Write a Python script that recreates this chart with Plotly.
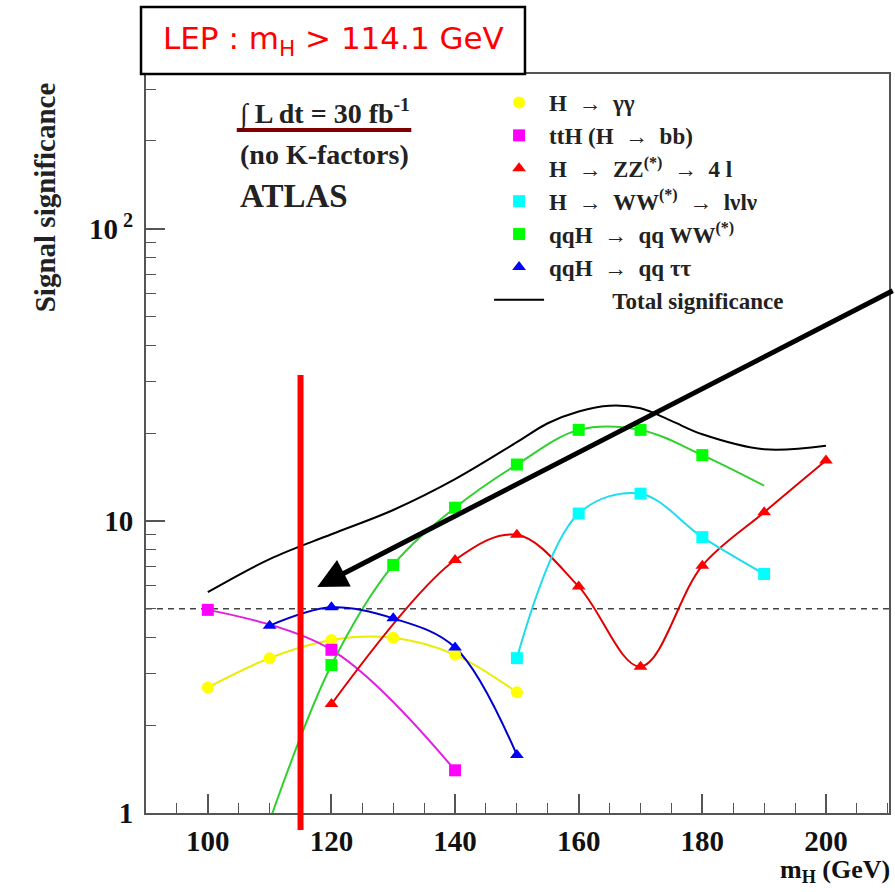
import math
import plotly.graph_objects as go

# ---------------- data ----------------
yy_mass = [100, 110, 120, 130, 140, 150]
yy_sig = [2.69, 3.39, 3.91, 3.98, 3.48, 2.59]

tth_mass = [100, 120, 140]
tth_sig = [4.96, 3.62, 1.40]

zz_mass = [120, 140, 150, 160, 170, 180, 190, 200]
zz_sig = [2.36, 7.35, 8.96, 5.96, 3.17, 7.03, 10.7, 16.1]

ww_mass = [150, 160, 170, 180, 190]
ww_sig = [3.39, 10.6, 12.4, 8.80, 6.58]

qqww_mass = [110, 120, 130, 140, 150, 160, 170, 180, 190]
qqww_sig = [0.94, 3.21, 7.07, 11.1, 15.6, 20.5, 20.5, 16.8, 13.2]
qqww_marked = [False, True, True, True, True, True, True, True, False]

qqtt_mass = [110, 120, 130, 140, 150]
qqtt_sig = [4.38, 5.06, 4.64, 3.69, 1.58]

total_mass = [100, 110, 120, 130, 140, 150, 155, 160, 165, 170, 175, 180, 190, 200]
total_sig = [5.7, 7.4, 9.0, 10.9, 13.9, 18.6, 21.6, 23.7, 24.8, 24.3, 22.0, 19.8, 17.6, 18.1]

discovery_level = 5.0
lep_line_mass = 115.0
lep_line_top = 31.6
arrow_tip_mass = 117.7
arrow_tip_sig = 5.94

x_range = [90, 210.2]
y_range = [1, 339]
x_tickvals = [100, 120, 140, 160, 180, 200]
y_tickvals = [1, 10, 100]
y_ticktext = ["1", "10", "10<sup> 2</sup>"]
y_minor = [2, 3, 4, 5, 6, 7, 8, 9, 20, 30, 40, 50, 60, 70, 80, 90, 200, 300]

series = [
    dict(name="H \u00a0\u2192 \u00a0γγ", x=yy_mass, y=yy_sig, line="#ecec00", fill="#ffff00", symbol="circle"),
    dict(name="ttH (H \u00a0\u2192 \u00a0bb)", x=tth_mass, y=tth_sig, line="#e020e0", fill="#ff00ff", symbol="square"),
    dict(name="H \u00a0\u2192 \u00a0ZZ<sup>(*)</sup> \u00a0\u2192 \u00a04 l", x=zz_mass, y=zz_sig, line="#e00000", fill="#ff0000", symbol="triangle-up"),
    dict(name="H \u00a0\u2192 \u00a0WW<sup>(*)</sup> \u00a0\u2192 \u00a0lνlν", x=ww_mass, y=ww_sig, line="#20dcec", fill="#00ffff", symbol="square"),
    dict(name="qqH \u00a0\u2192 \u00a0qq WW<sup>(*)</sup>", x=qqww_mass, y=qqww_sig, line="#30d030", fill="#00ff00", symbol="square", marked=qqww_marked),
    dict(name="qqH \u00a0\u2192 \u00a0qq ττ", x=qqtt_mass, y=qqtt_sig, line="#0000cc", fill="#0000ff", symbol="triangle-up"),
]

SERIF = "Liberation Serif"
fig = go.Figure()

# discovery threshold dashed line
fig.add_trace(go.Scatter(x=x_range, y=[discovery_level, discovery_level], mode="lines",
                         line=dict(color="#444444", width=1.5, dash="6px,5px"),
                         showlegend=False, hoverinfo="skip"))

# curves
for s in series:
    fig.add_trace(go.Scatter(x=s["x"], y=s["y"], mode="lines",
                             line=dict(color=s["line"], width=2, shape="spline", smoothing=1.0),
                             showlegend=False, hoverinfo="skip"))

# markers (legend entries)
for s in series:
    marked = s.get("marked", [True] * len(s["x"]))
    mx = [m for m, k in zip(s["x"], marked) if k]
    my = [v for v, k in zip(s["y"], marked) if k]
    fig.add_trace(go.Scatter(x=mx, y=my, mode="markers", name=s["name"],
                             marker=dict(symbol=s["symbol"], size=12, color=s["fill"],
                                         line=dict(width=0))))

# total significance
fig.add_trace(go.Scatter(x=total_mass, y=total_sig, mode="lines",
                         name="\u00a0" * 11 + "Total significance",
                         line=dict(color="black", width=2, shape="spline", smoothing=1.0)))

# ---------------- layout ----------------
W, H = 895, 892
L, R, T, B = 146, 4, 74, 79
plot_w = W - L - R
plot_h = H - T - B


def px2paper_x(px):
    return (px - L) / plot_w


def px2paper_y(py):
    return (H - B - py) / plot_h


ly0, ly1 = math.log10(y_range[0]), math.log10(y_range[1])
lep_x_paper = (lep_line_mass - x_range[0]) / (x_range[1] - x_range[0])
lep_top_paper = (math.log10(lep_line_top) - ly0) / (ly1 - ly0)

axis_font = dict(family=SERIF, size=29, color="#111111", weight="bold")

fig.update_layout(
    width=W, height=H,
    margin=dict(l=L, r=R, t=T, b=B),
    paper_bgcolor="white", plot_bgcolor="white",
    showlegend=True,
    legend=dict(x=px2paper_x(490), y=px2paper_y(81), xanchor="left", yanchor="top",
                bgcolor="rgba(0,0,0,0)", font=dict(family=SERIF, size=23, color="#222222", weight="bold"),
                itemwidth=50, tracegroupgap=0),
    xaxis=dict(range=x_range, showgrid=False, zeroline=False, showline=True, linecolor="#555555",
               linewidth=2, mirror=True, ticks="inside", ticklen=19, tickwidth=1.5, tickcolor="#555555",
               tickmode="array", tickvals=x_tickvals, tickfont=axis_font, ticklabelstandoff=1,
               minor=dict(dtick=5, tick0=0, ticks="inside", ticklen=10, tickwidth=1.2, tickcolor="#555555")),
    yaxis=dict(type="log", range=[ly0, ly1], showgrid=False, zeroline=False, showline=True,
               linecolor="#555555", linewidth=2, mirror=True, ticks="inside", ticklen=19, tickwidth=1.5,
               tickcolor="#555555", tickmode="array", tickvals=y_tickvals, ticktext=y_ticktext,
               tickfont=axis_font, ticklabelstandoff=5,
               minor=dict(tickmode="array", tickvals=y_minor, ticks="inside", ticklen=10, tickwidth=1.2,
                          tickcolor="#555555")),
)

shapes = [
    # LEP limit vertical line
    dict(type="line", xref="paper", yref="paper", x0=lep_x_paper, x1=lep_x_paper,
         y0=px2paper_y(830), y1=lep_top_paper, line=dict(color="#ff0000", width=6), layer="above"),
    # LEP label box
    dict(type="rect", xref="paper", yref="paper", x0=px2paper_x(141), x1=px2paper_x(526),
         y0=px2paper_y(74), y1=px2paper_y(7), line=dict(color="black", width=2.5),
         fillcolor="white", layer="above"),
    # underline of luminosity
    dict(type="line", xref="paper", yref="paper", x0=px2paper_x(237), x1=px2paper_x(412),
         y0=px2paper_y(130), y1=px2paper_y(130), line=dict(color="#800000", width=4), layer="above"),
]
fig.update_layout(shapes=shapes)

ann = [
    dict(text="LEP : m<sub>H</sub> > 114.1 GeV", xref="paper", yref="paper",
         x=px2paper_x(334), y=px2paper_y(40), xanchor="center", yanchor="middle", showarrow=False,
         font=dict(family="DejaVu Sans", size=31, color="#ff0000")),
    dict(text="\u222b L dt = 30 fb<sup>-1</sup>", xref="paper", yref="paper",
         x=px2paper_x(236), y=px2paper_y(112), xanchor="left", yanchor="middle", showarrow=False,
         font=dict(family=SERIF, size=28, color="#222222", weight="bold")),
    dict(text="(no K-factors)", xref="paper", yref="paper",
         x=px2paper_x(238), y=px2paper_y(154), xanchor="left", yanchor="middle", showarrow=False,
         font=dict(family=SERIF, size=28, color="#222222", weight="bold")),
    dict(text="ATLAS", xref="paper", yref="paper",
         x=px2paper_x(238), y=px2paper_y(196), xanchor="left", yanchor="middle", showarrow=False,
         font=dict(family=SERIF, size=33, color="#222222", weight="bold")),
    dict(text="Signal significance", xref="paper", yref="paper", textangle=-90,
         x=px2paper_x(45), y=px2paper_y(197), xanchor="center", yanchor="middle", showarrow=False,
         font=dict(family=SERIF, size=29, color="#222222", weight="bold")),
    dict(text="m<sub>H</sub> (GeV)", xref="paper", yref="paper",
         x=px2paper_x(894), y=px2paper_y(871), xanchor="right", yanchor="middle", showarrow=False,
         font=dict(family=SERIF, size=26, color="#111111", weight="bold")),
    # big black arrow pointing at the low-mass region
    dict(text="", x=arrow_tip_mass, y=math.log10(arrow_tip_sig), xref="x", yref="y",
         showarrow=True, arrowhead=2, arrowsize=1.2, arrowwidth=5, arrowcolor="black",
         ax=577, ay=-297, standoff=0),
]
fig.update_layout(annotations=ann)

fig.write_html("out.html")
